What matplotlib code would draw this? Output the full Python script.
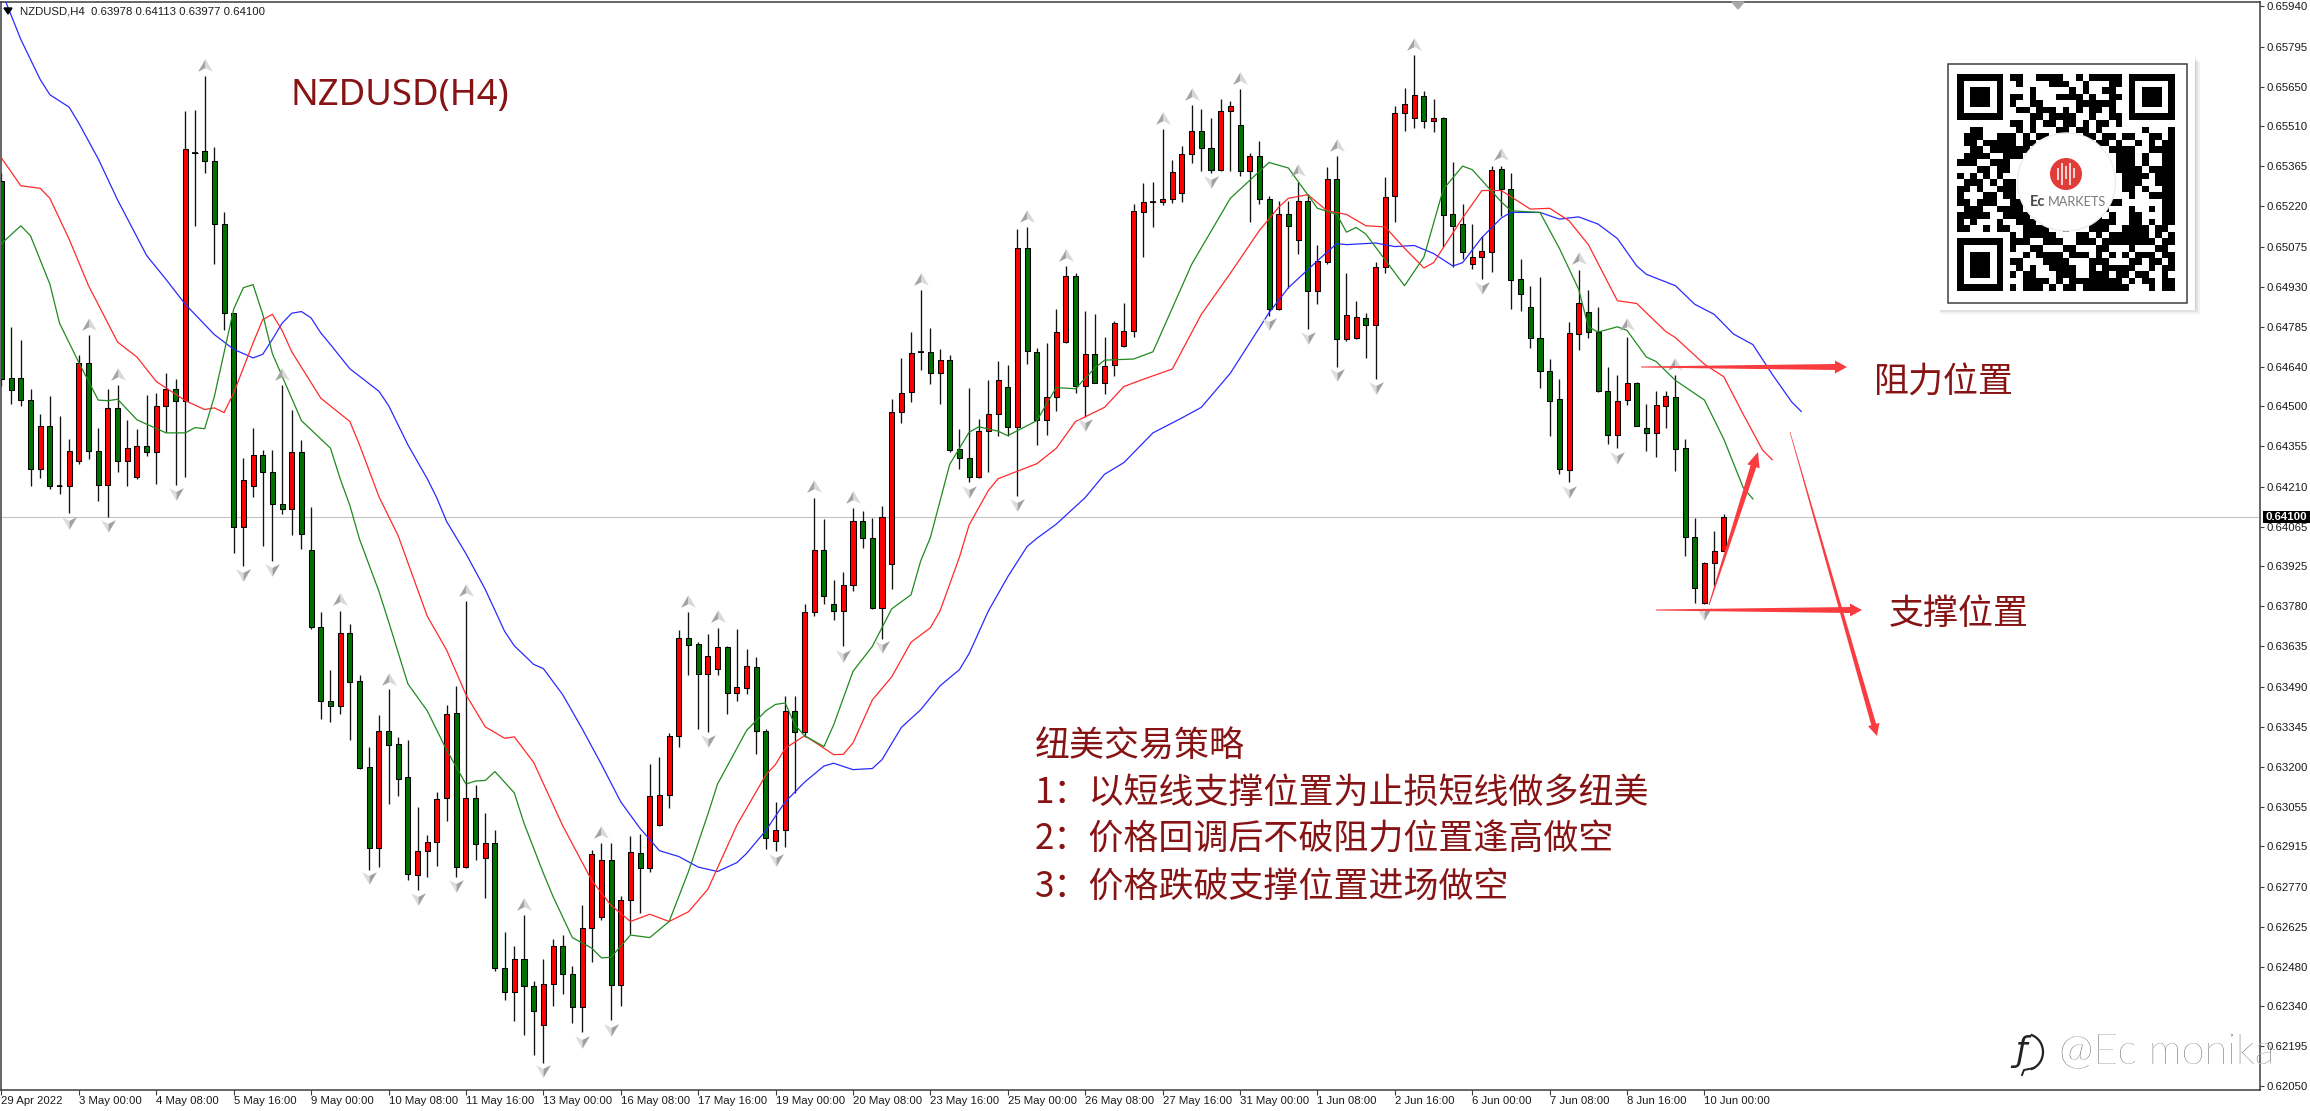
import numpy as np
import matplotlib
matplotlib.use("Agg")
import matplotlib.pyplot as plt
from matplotlib.patches import Rectangle, Circle, Polygon, Arc
from matplotlib.path import Path

W, H = 2310, 1111
SMALL = "Liberation Sans"
CJK = ["Noto Sans CJK SC", "DejaVu Sans"]
DARK_RED = "#861414"
ARROW_RED = "#f83c40"

# prices in points (1 point = 0.00001)
opens = [
    65313, 64602, 64602, 64522, 64275, 64427, 64213, 64213, 64301, 64657,
    64340, 64217, 64493, 64301, 64244, 64358, 64336, 64500, 64563, 64517,
    65412, 65418, 65382, 65155, 64834, 64064, 64213, 64323, 64262, 64149,
    64131, 64336, 63982, 63705, 63439, 63420, 63682, 63510, 63200, 62907,
    63330, 63282, 63165, 62811, 62898, 62929, 63089, 63395, 62841, 63087,
    62872, 62926, 62477, 62389, 62508, 62413, 62271, 62419, 62557, 62456,
    62337, 62621, 62660, 62865, 62415, 62720, 62891, 62837, 62993, 63098,
    63312, 63664, 63644, 63537, 63552, 63631, 63467, 63485, 63561, 63330,
    62934, 62973, 63403, 63326, 63757, 63982, 63786, 63761, 63856, 64087,
    64027, 63772, 63931, 64480, 64551, 64696, 64696, 64619, 64668, 64345,
    64314, 64246, 64409, 64471, 64571, 64426, 65069, 64697, 64451, 64535,
    64731, 64969, 64574, 64689, 64584, 64648, 64718, 64772, 65201, 65236,
    65236, 65248, 65268, 65409, 65491, 65430, 65351, 65564, 65513, 65346,
    65400, 65246, 64850, 65191, 65099, 65239, 64915, 65021, 65320, 64743,
    64745, 64818, 64792, 65002, 65258, 65556, 65538, 65617, 65529, 65538,
    65194, 65155, 65011, 65037, 65054, 65356, 65281, 64960, 64859, 64747,
    64628, 64525, 64270, 64759, 64841, 64767, 64554, 64396, 64522, 64584,
    64423, 64404, 64500, 64533, 64350, 64030, 63792, 63937, 63978,
]
closes = [
    64599, 64558, 64522, 64275, 64427, 64211, 64213, 64340, 64657, 64340,
    64217, 64493, 64301, 64349, 64358, 64336, 64502, 64563, 64517, 65425,
    65412, 65382, 65155, 64834, 64064, 64235, 64323, 64262, 64149, 64131,
    64336, 64038, 63703, 63438, 63420, 63682, 63507, 63197, 62907, 63330,
    63281, 63159, 62815, 62899, 62931, 63085, 63390, 62841, 63087, 62923,
    62926, 62477, 62389, 62508, 62411, 62320, 62420, 62557, 62454, 62337,
    62621, 62886, 62865, 62415, 62721, 62895, 62837, 63096, 63100, 63313,
    63664, 63639, 63537, 63601, 63631, 63467, 63488, 63566, 63330, 62946,
    62973, 63403, 63326, 63757, 63982, 63817, 63761, 63857, 64087, 64027,
    63772, 64100, 64480, 64548, 64693, 64696, 64619, 64668, 64342, 64314,
    64246, 64409, 64471, 64593, 64426, 65069, 64700, 64451, 64535, 64767,
    64969, 64574, 64689, 64584, 64646, 64799, 64772, 65204, 65234, 65236,
    65248, 65343, 65409, 65491, 65429, 65351, 65564, 65582, 65346, 65400,
    65246, 64850, 65191, 65150, 65239, 64915, 65024, 65317, 64741, 64828,
    64823, 64792, 65002, 65255, 65556, 65587, 65622, 65529, 65538, 65189,
    65150, 65054, 65037, 65059, 65352, 65281, 64953, 64906, 64745, 64628,
    64518, 64275, 64764, 64872, 64767, 64556, 64396, 64518, 64584, 64430,
    64404, 64506, 64536, 64347, 64030, 63847, 63936, 63979, 64100,
]
highs = [
    65339, 64786, 64738, 64563, 64473, 64538, 64464, 64381, 64683, 64756,
    64423, 64563, 64576, 64451, 64417, 64542, 64548, 64620, 64599, 65562,
    65567, 65689, 65432, 65200, 64834, 64314, 64422, 64342, 64342, 64576,
    64486, 64377, 64136, 63759, 63550, 63763, 63714, 63532, 63271, 63388,
    63480, 63309, 63296, 63058, 62957, 63110, 63422, 63493, 63798, 63136,
    63035, 62973, 62606, 62557, 62666, 62428, 62509, 62580, 62595, 62483,
    62702, 62901, 62927, 62927, 62737, 62953, 62959, 63210, 63236, 63322,
    63693, 63759, 63650, 63680, 63702, 63637, 63696, 63627, 63596, 63339,
    63075, 63455, 63457, 63786, 64171, 64094, 63875, 63902, 64134, 64123,
    64098, 64139, 64525, 64673, 64769, 64918, 64782, 64705, 64683, 64419,
    64567, 64455, 64596, 64664, 64648, 65140, 65144, 64709, 64728, 64850,
    65005, 64981, 64844, 64831, 64751, 64808, 64870, 65230, 65303, 65307,
    65497, 65388, 65436, 65584, 65571, 65538, 65605, 65600, 65641, 65412,
    65457, 65259, 65239, 65239, 65307, 65264, 65082, 65361, 65400, 64979,
    64880, 64837, 65020, 65326, 65580, 65645, 65764, 65635, 65607, 65542,
    65378, 65230, 65155, 65114, 65365, 65365, 65339, 65030, 64934, 64966,
    64670, 64599, 64803, 64992, 64917, 64857, 64643, 64612, 64751, 64589,
    64509, 64554, 64554, 64612, 64381, 64098, 63940, 64049, 64113,
]
lows = [
    64574, 64509, 64499, 64211, 64243, 64203, 64185, 64117, 64291, 64311,
    64159, 64102, 64262, 64211, 64239, 64322, 64221, 64406, 64216, 64246,
    65150, 65340, 65011, 64773, 63972, 63924, 64172, 63997, 63943, 64113,
    64037, 63986, 63699, 63375, 63362, 63393, 63298, 63195, 62831, 62840,
    63066, 63097, 62792, 62757, 62805, 62845, 63007, 62805, 62838, 62867,
    62728, 62467, 62361, 62284, 62236, 62162, 62136, 62341, 62383, 62280,
    62245, 62499, 62651, 62289, 62341, 62598, 62676, 62822, 62989, 63053,
    63272, 63532, 63336, 63326, 63532, 63390, 63439, 63462, 63246, 62904,
    62898, 62914, 63107, 63309, 63743, 63789, 63729, 63635, 63834, 63991,
    63770, 63663, 63840, 64439, 64516, 64632, 64579, 64509, 64334, 64275,
    64226, 64243, 64262, 64394, 64391, 64175, 64653, 64360, 64396, 64484,
    64728, 64548, 64462, 64583, 64544, 64608, 64715, 64751, 65037, 65144,
    65223, 65232, 65236, 65376, 65346, 65340, 65348, 65346, 65328, 65163,
    65227, 64825, 64848, 64927, 65050, 64779, 64867, 65014, 64642, 64734,
    64741, 64674, 64599, 64979, 65163, 65492, 65502, 65502, 65487, 65073,
    65001, 65030, 64996, 64957, 64983, 65185, 64849, 64844, 64709, 64567,
    64391, 64255, 64226, 64702, 64745, 64552, 64365, 64349, 64504, 64428,
    64337, 64316, 64422, 64268, 63959, 63792, 63786, 63853, 63977,
]

# moving averages read at bars, (bar numbers, then points)
blue_bars = [0, 2, 4, 5, 7, 8, 10, 12, 15, 17, 19, 22, 24, 26, 27, 28, 29, 30, 31, 32, 33, 34, 36, 39, 40, 42, 44, 45, 46, 48,
             50, 52, 53, 55, 56, 58, 60, 62, 64, 66, 68, 70, 72, 74, 76, 77, 79, 80, 81, 83, 85, 86, 88, 90, 91, 93, 95, 97, 99, 100,
             102, 104, 106, 107, 109, 112, 114, 116, 119, 122, 124, 127, 131, 133, 136, 138, 139, 142, 144, 146, 148, 150, 151, 153, 155, 156, 159,
             161, 163, 165, 167, 169, 170, 173, 175, 177, 179, 181, 183, 185, 186]
blue_vals = [65995, 65821, 65677, 65622, 65577, 65519, 65391, 65243, 65043, 64957, 64867, 64758, 64705, 64674, 64687, 64741, 64799, 64835, 64841, 64818, 64764, 64722, 64635, 64554, 64503, 64361, 64239, 64169, 64085, 63969,
             63840, 63689, 63637, 63570, 63555, 63461, 63339, 63210, 63075, 62979, 62899, 62878, 62840, 62824, 62856, 62889, 62972, 63024, 63075, 63146, 63204, 63214, 63191, 63195, 63227, 63343, 63407, 63493, 63551, 63609,
             63763, 63886, 63995, 64024, 64075, 64171, 64255, 64297, 64404, 64458, 64496, 64619, 64837, 64927, 65024, 65086, 65082, 65088, 65075, 65079, 65050, 65005, 65017, 65108, 65178, 65198, 65198,
             65174, 65182, 65156, 65104, 65005, 64975, 64934, 64867, 64831, 64760, 64722, 64615, 64516, 64481]
red_bars = [0, 2, 4, 5, 7, 9, 12, 14, 16, 19, 21, 22, 23, 24, 26, 27, 28, 29, 30, 33, 36, 37, 39, 41, 43, 44, 46, 48, 50, 52,
            53, 55, 58, 61, 63, 65, 67, 69, 71, 73, 76, 79, 80, 81, 83, 84, 86, 87, 88, 90, 92, 94, 96, 97, 99, 100, 102, 103, 107, 109,
            111, 114, 116, 118, 121, 124, 127, 130, 132, 133, 135, 137, 139, 141, 143, 145, 147, 148, 151, 153, 155, 158, 160, 162, 164, 166, 167,
            169, 172, 173, 176, 178, 180, 182, 183]
red_vals = [65394, 65294, 65285, 65249, 65101, 64934, 64731, 64677, 64589, 64520, 64488, 64494, 64477, 64548, 64728, 64812, 64831, 64773, 64696, 64529, 64445, 64361, 64175, 64033, 63840, 63744, 63622, 63461, 63345, 63304,
            63309, 63217, 62989, 62792, 62702, 62644, 62670, 62644, 62679, 62760, 62991, 63172, 63210, 63268, 63313, 63291, 63245, 63246, 63287, 63442, 63525, 63650, 63702, 63763, 63956, 64072, 64197, 64239, 64293, 64348,
            64445, 64496, 64571, 64597, 64634, 64831, 64979, 65133, 65217, 65249, 65262, 65204, 65191, 65150, 65146, 65069, 64998, 65017, 65178, 65277, 65277, 65210, 65213, 65168, 65082, 64947, 64880,
            64870, 64769, 64747, 64651, 64606, 64471, 64342, 64307]
green_bars = [0, 2, 3, 5, 6, 8, 10, 11, 12, 14, 17, 19, 20, 21, 22, 24, 25, 26, 27, 28, 31, 34, 35, 36, 37, 39, 40, 42, 44, 46,
              48, 49, 50, 51, 53, 54, 56, 57, 59, 61, 62, 63, 65, 67, 69, 71, 73, 74, 77, 79, 80, 81, 82, 83, 85, 86, 88, 90, 92, 94,
              95, 96, 98, 100, 101, 103, 104, 107, 109, 111, 113, 114, 117, 119, 123, 127, 131, 133, 136, 138, 139, 140, 141, 145, 147, 149, 151, 152,
              155, 156, 159, 161, 163, 164, 165, 167, 168, 170, 171, 173, 176, 178, 180, 181]
green_vals = [65086, 65150, 65114, 64940, 64799, 64657, 64522, 64520, 64525, 64451, 64404, 64404, 64423, 64419, 64535, 64850, 64927, 64938, 64831, 64689, 64448, 64349, 64239, 64143, 64021, 63834, 63725, 63500, 63403, 63262,
              63139, 63150, 63152, 63184, 63107, 62998, 62818, 62734, 62586, 62548, 62513, 62515, 62595, 62586, 62644, 62824, 63030, 63139, 63332, 63403, 63426, 63431, 63352, 63313, 63274, 63352, 63545, 63635, 63770, 63821,
              63943, 64027, 64291, 64406, 64426, 64410, 64394, 64448, 64567, 64563, 64638, 64666, 64670, 64696, 65011, 65249, 65378, 65358, 65213, 65191, 65127, 65144, 65120, 64934, 65037, 65281, 65365, 65352,
              65236, 65204, 65198, 65069, 64921, 64786, 64767, 64786, 64773, 64677, 64661, 64593, 64522, 64381, 64207, 64166]

# fractal arrows
up_bars = [9, 12, 21, 29, 35, 40, 48, 54, 62, 71, 74, 84, 88, 95, 106, 110, 120, 123, 128, 134, 138, 146, 155, 163, 168, 173]
up_vals = [64796, 64617, 65729, 64616, 63804, 63519, 63838, 62708, 62966, 63798, 63743, 64211, 64172, 64960, 65185, 65045, 65538, 65626, 65683, 65351, 65442, 65803, 65407, 65034, 64795, 64653]
down_bars = [7, 11, 18, 25, 28, 38, 43, 47, 56, 60, 63, 73, 80, 87, 91, 100, 105, 112, 125, 131, 135, 138, 142, 153, 162, 167, 176]
down_vals = [64081, 64069, 64183, 63892, 63909, 62799, 62725, 62773, 62104, 62211, 62254, 63294, 62865, 63600, 63631, 64190, 64143, 64432, 65307, 64795, 64747, 64612, 64567, 64925, 64192, 64314, 63753]

price_ticks = ["0.65940", "0.65795", "0.65650", "0.65510", "0.65365", "0.65220", "0.65075", "0.64930", "0.64785", "0.64640",
               "0.64500", "0.64355", "0.64210", "0.64065", "0.63925", "0.63780", "0.63635", "0.63490", "0.63345", "0.63200",
               "0.63055", "0.62915", "0.62770", "0.62625", "0.62480", "0.62340", "0.62195", "0.62050"]
time_labels = ["29 Apr 2022", "3 May 00:00", "4 May 08:00", "5 May 16:00", "9 May 00:00", "10 May 08:00", "11 May 16:00",
               "13 May 00:00", "16 May 08:00", "17 May 16:00", "19 May 00:00", "20 May 08:00", "23 May 16:00", "25 May 00:00",
               "26 May 08:00", "27 May 16:00", "31 May 00:00", "1 Jun 08:00", "2 Jun 16:00", "6 Jun 00:00", "7 Jun 08:00",
               "8 Jun 16:00", "10 Jun 00:00"]
last_price = 0.64100

strategy_lines = ["纽美交易策略", "1：以短线支撑位置为止损短线做多纽美", "2：价格回调后不破阻力位置逢高做空", "3：价格跌破支撑位置进场做空"]

qr_rows = [
    "111111101100111100101111101111111",
    "100000100100001110010001101000001",
    "101110100001000001010011001011101",
    "101110101101000111101001101011101",
    "101110101001100000111111001011101",
    "100000100110111010101101001000001",
    "111111100001101111001001101111111",
    "000000001101011011010110100000000",
    "001100000101000110110100000010001",
    "011100111010110010011011011001101",
    "011011111011000000000110100101011",
    "001101111110000000000001111001111",
    "011110011100000000000000111010011",
    "111001110000000000000000111010011",
    "000110110000000000000000111101111",
    "101010100000000000000000011110111",
    "011101011000000000000000011100111",
    "110100111000000000000000011010011",
    "100011011000000000000000001001111",
    "110111001100000000000001100000011",
    "011100111100000000000010001001011",
    "111110011110000000000101001100011",
    "101000100111000000111111001101011",
    "110010110011110010001110011110110",
    "000000001011111000110101111110101",
    "111111101110011100111011111111011",
    "100000101001100011000110001000110",
    "101110100010111101110101010111011",
    "101110101100011110001110001101101",
    "101110100101001111001011111001011",
    "101110101011000111001110110110010",
    "100000100011110101111111101011011",
    "111111101011101011011111110001011",
]


def taper_arrow(ax, x0, y0, x1, y1, w0, w1, head_w, head_l):
    # thin at the start, thick at the head
    d = np.array([x1 - x0, y1 - y0], dtype=float)
    d /= np.hypot(*d)
    n = np.array([-d[1], d[0]])
    a = np.array([x0, y0], dtype=float)
    tip = np.array([x1, y1], dtype=float)
    neck = tip - d * head_l
    pts = [a + n * w0 / 2, neck + n * w1 / 2, neck + n * head_w / 2, tip,
           neck - n * head_w / 2, neck - n * w1 / 2, a - n * w0 / 2]
    ax.add_patch(Polygon(pts, closed=True, fc=ARROW_RED, ec="none", zorder=6))


fig = plt.figure(figsize=(W / 100, H / 100), dpi=100, facecolor="white")
ax = fig.add_axes([1 / W, 1 - 1090 / H, 2259 / W, 1088 / H])
ax.set_xlim(-0.05, 233.41)
ax.set_ylim(0.62037, 0.65956)

o = np.array(opens) / 1e5
c = np.array(closes) / 1e5
hi = np.array(highs) / 1e5
lo = np.array(lows) / 1e5
bars = np.arange(len(o))

ax.axhline(last_price, color="#c4c4c4", lw=0.8, zorder=1)
ax.vlines(bars, lo, hi, color="#111111", lw=0.95, zorder=2)

candle_colors = ["#ff0000" if cl > op else "#007000" for op, cl in zip(o, c)]
ax.bar(bars, np.abs(c - o), bottom=np.minimum(o, c), width=0.52, color=candle_colors,
       edgecolor="black", linewidth=0.75, zorder=3)
# dojis have no body to fill, just a short dash
doji = c == o
ax.hlines(o[doji], bars[doji] - 0.3, bars[doji] + 0.3, color="black", lw=1.2, zorder=3)

ax.plot(blue_bars, np.array(blue_vals) / 1e5, color="#2a2aff", lw=0.9, zorder=4)
ax.plot(red_bars, np.array(red_vals) / 1e5, color="#ff2a2a", lw=0.9, zorder=4)
ax.plot(green_bars, np.array(green_vals) / 1e5, color="#1f8a1f", lw=0.9, zorder=4)

# two tone arrow heads for the fractals
left_up = Path([(0, 0.85), (0, -0.35), (-1, -0.85), (0, 0.85)])
right_up = Path([(0, 0.85), (1, -0.85), (0, -0.35), (0, 0.85)])
left_down = Path([(0, -0.85), (0, 0.35), (-1, 0.85), (0, -0.85)])
right_down = Path([(0, -0.85), (1, 0.85), (0, 0.35), (0, -0.85)])
up_p = np.array(up_vals) / 1e5
down_p = np.array(down_vals) / 1e5
ax.scatter(up_bars, up_p, marker=left_up, s=115, c="#a4a4a4", linewidths=0, zorder=5)
ax.scatter(up_bars, up_p, marker=right_up, s=115, c="#d8d8d8", linewidths=0, zorder=5)
ax.scatter(down_bars, down_p, marker=left_down, s=115, c="#dcdcdc", linewidths=0, zorder=5)
ax.scatter(down_bars, down_p, marker=right_down, s=115, c="#a0a0a0", linewidths=0, zorder=5)

for side in ["top", "bottom", "left", "right"]:
    ax.spines[side].set_color("#3c3c3c")
    ax.spines[side].set_linewidth(1.1)

ax.yaxis.tick_right()
ax.set_yticks([float(t) for t in price_ticks])
ax.set_yticklabels(price_ticks, fontfamily=SMALL, fontsize=8.2, color="#1a1a1a")
ax.set_xticks(np.arange(len(time_labels)) * 8)
ax.set_xticklabels(time_labels, fontfamily=SMALL, fontsize=8.2, color="#1a1a1a", ha="left")
ax.tick_params(axis="y", length=3, width=0.8, pad=2, color="#3c3c3c")
ax.tick_params(axis="x", length=3.5, width=0.8, pad=1, color="#3c3c3c")

# everything pasted on top of the chart goes in pixel coordinates
over = fig.add_axes([0, 0, 1, 1])
over.axis("off")

over.fill([4, 12, 8], [8, 8, 14], color="black", zorder=8)
over.text(20, 11, "NZDUSD,H4  0.63978 0.64113 0.63977 0.64100", family=SMALL, fontsize=8.2,
          color="#1a1a1a", va="center", ha="left")
over.fill([1732, 1744, 1738], [2, 2, 9], color="#a8a8a8", zorder=8)

over.add_patch(Rectangle((2263, 511), 47, 12, fc="black", ec="none", zorder=8))
over.text(2286.5, 517, "0.64100", family=SMALL, fontsize=8.2, color="white", weight="bold",
          ha="center", va="center", zorder=9)

over.text(291, 96, "NZDUSD(H4)", family="Noto Sans", fontsize=26.3, color=DARK_RED, va="center", ha="left")
over.text(1874, 383, "阻力位置", family=CJK, fontsize=25.2, color=DARK_RED, va="center", ha="left")
over.text(1889, 614, "支撑位置", family=CJK, fontsize=25.2, color=DARK_RED, va="center", ha="left")
for text, y in zip(strategy_lines, [747, 793, 840, 888]):
    over.text(1035, y, text, family=CJK, fontsize=25.2, color=DARK_RED, va="center", ha="left")

taper_arrow(over, 1641, 367, 1847, 367, 1, 6, 13, 12)
taper_arrow(over, 1656, 610, 1862, 610, 1, 6, 13, 12)
taper_arrow(over, 1709, 605, 1758, 452, 1, 6, 13, 15)
taper_arrow(over, 1790, 432, 1877, 736, 0.6, 5, 12, 12)

# QR card
for dx, alpha in [(8, 0.10), (6, 0.14), (4, 0.20)]:
    over.add_patch(Rectangle((1940, 54 + dx), 252 + dx, 252, fc="#808080", ec="none", alpha=alpha, zorder=10))
over.add_patch(Rectangle((1938, 54), 257, 256, fc="white", ec="none", zorder=10))
over.add_patch(Rectangle((1948, 64), 239, 239, fc="white", ec="#404040", lw=1.1, zorder=10))
qr = np.array([[int(ch) for ch in row.ljust(33, "0")[:33]] for row in qr_rows])
over.imshow(1 - qr, cmap="gray", vmin=0, vmax=1, extent=(1957.3, 2175, 291, 74), aspect="auto",
            interpolation="nearest", zorder=11)
over.add_patch(Circle((2066.5, 182), 49, fc="white", ec="#ececec", lw=1, zorder=12))
over.add_patch(Circle((2066, 174), 16, fc="#e03c38", ec="none", zorder=13))
over.vlines([2058, 2062, 2066, 2070, 2074], [168, 163, 166, 163, 168], [180, 185, 179, 185, 178],
            color="white", lw=1.1, zorder=14)
over.text(2030, 202, "Ec", family="Lato", fontsize=10.5, weight="bold", color="#4a4a4a", va="center", ha="left", zorder=14)
over.text(2048, 202, "MARKETS", family="Lato", fontsize=9.2, color="#7a7a7a", va="center", ha="left", zorder=14)

# watermark, white with a thin dark edge
over.text(2058.7, 1052.7, "@Ec monika", family="Lato", fontsize=30, weight="light", color="#555555",
          va="center", ha="left", zorder=15)
over.text(2058, 1052, "@Ec monika", family="Lato", fontsize=30, weight="light", color="white",
          va="center", ha="left", zorder=16)
over.text(2021, 1052, "ƒ", family="DejaVu Sans", fontsize=24, color="#222222", style="italic",
          va="center", ha="center", zorder=15)
over.add_patch(Arc((2026, 1052), 34, 36, theta1=-75, theta2=75, color="#222222", lw=1.6, zorder=15))
over.plot([2034, 2024, 2022], [1068, 1070, 1075], color="#222222", lw=1.4, zorder=15)

over.set_xlim(0, W)
over.set_ylim(H, 0)

fig.savefig("out.png", dpi=100)
